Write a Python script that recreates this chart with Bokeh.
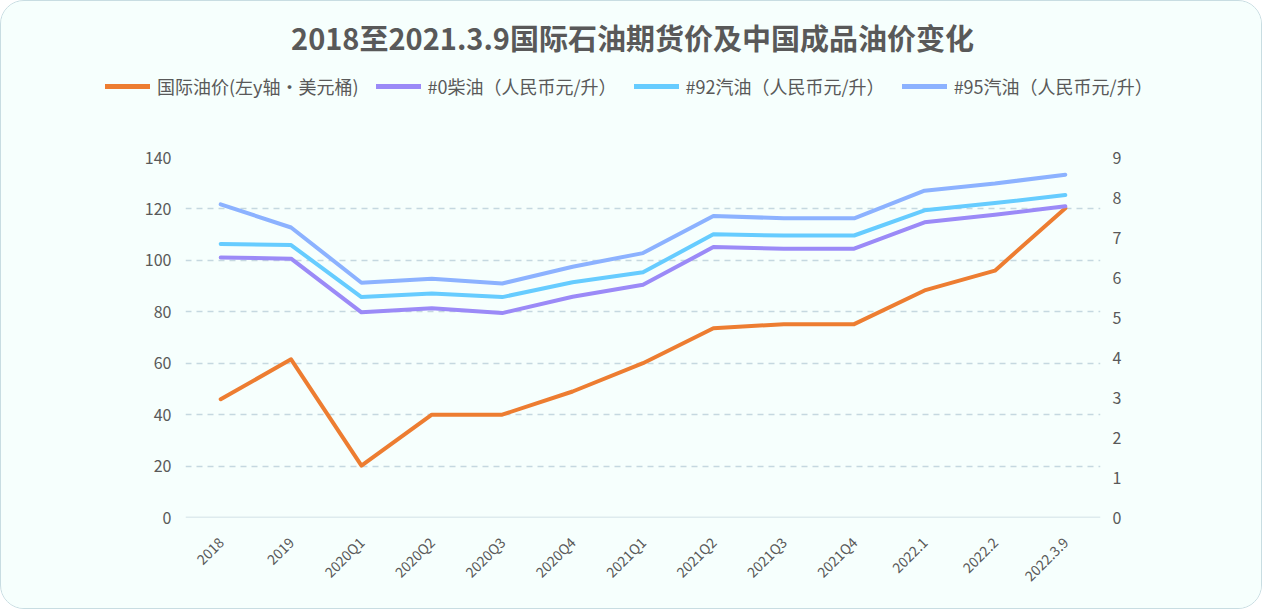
from bokeh.plotting import figure
from bokeh.layouts import column
from bokeh.models import (Range1d, LinearAxis, FixedTicker, Legend, LegendItem,
                          Span, Label)
from bokeh.embed import file_html
from bokeh.resources import INLINE
import math

categories = ["2018", "2019", "2020Q1", "2020Q2", "2020Q3", "2020Q4", "2021Q1",
              "2021Q2", "2021Q3", "2021Q4", "2022.1", "2022.2", "2022.3.9"]
intl_oil = [46, 61.5, 20.2, 40, 40, 49, 60, 73.6, 75.2, 75.2, 88.3, 96, 120.3]
diesel0 = [6.50, 6.47, 5.13, 5.23, 5.11, 5.52, 5.82, 6.76, 6.72, 6.72, 7.38, 7.57, 7.78]
gas92 = [6.84, 6.81, 5.51, 5.60, 5.51, 5.88, 6.13, 7.08, 7.05, 7.05, 7.68, 7.86, 8.06]
gas95 = [7.83, 7.25, 5.87, 5.97, 5.85, 6.27, 6.61, 7.54, 7.48, 7.48, 8.17, 8.35, 8.57]
left_ticks = [0, 20, 40, 60, 80, 100, 120, 140]
right_ticks = [0, 1, 2, 3, 4, 5, 6, 7, 8, 9]
series_names = ["国际油价(左y轴·美元桶)", "#0柴油（人民币元/升）",
                "#92汽油（人民币元/升）", "#95汽油（人民币元/升）"]
colors = ["#ED7D31", "#9B8AF7", "#66CCFF", "#8CB2FF"]
title_text = "2018至2021.3.9国际石油期货价及中国成品油价变化"

FONT = "Noto Sans CJK SC"
BG = "#F6FFFD"
TXT = "#595959"
W = 1260
HEAD_H = 120

# ---------- header (title + legend) ----------
hd = figure(width=W, height=HEAD_H, x_range=Range1d(0, W), y_range=Range1d(HEAD_H, 0),
            output_backend="svg", toolbar_location=None,
            min_border=0, min_border_left=0, min_border_right=0,
            min_border_top=0, min_border_bottom=0)
hd.frame_align = False
hd.axis.visible = False
hd.grid.visible = False
hd.background_fill_color = BG
hd.border_fill_color = BG
hd.outline_line_color = None

hd.add_layout(Label(x=631, y=35, text=title_text, text_align="center",
                    text_baseline="middle", text_font=FONT, text_font_size="29px",
                    text_font_style="bold", text_color=TXT))

series_vals = [intl_oil, diesel0, gas92, gas95]
idx = list(range(len(categories)))
dummies = [hd.line(idx, v, line_color=c, line_width=5, line_cap="round", visible=False)
           for v, c in zip(series_vals, colors)]
legend = Legend(items=[LegendItem(label=n, renderers=[r]) for n, r in zip(series_names, dummies)],
                orientation="horizontal", location=(104, 22),
                label_text_font=FONT, label_text_font_size="18px", label_text_color=TXT,
                glyph_width=45, glyph_height=16, spacing=17, label_standoff=7,
                background_fill_alpha=0, border_line_color=None,
                inactive_fill_alpha=0, click_policy="none",
                margin=0, padding=4)
hd.add_layout(legend, "center")

# ---------- main chart ----------
p = figure(x_range=categories, y_range=Range1d(0, 140), width=W, height=607 - HEAD_H,
           output_backend="svg", toolbar_location=None,
           min_border_left=184, min_border_right=W - 1099, min_border_bottom=91,
           min_border_top=156 - HEAD_H)
p.extra_y_ranges = {"y2": Range1d(0, 9)}
p.background_fill_color = BG
p.border_fill_color = BG
p.outline_line_color = None

p.xgrid.grid_line_color = None
p.ygrid.grid_line_color = "#C5D8E0"
p.ygrid.grid_line_dash = "6 5"
p.ygrid.grid_line_width = 1.5
p.yaxis.ticker = FixedTicker(ticks=left_ticks)
p.add_layout(Span(location=0, dimension="width", line_color="#C5D8E0", line_width=1.5))

r0 = p.line(categories, intl_oil, line_color=colors[0], line_width=4, line_cap="round", line_join="round")
r1 = p.line(categories, diesel0, line_color=colors[1], line_width=4, line_cap="round", line_join="round", y_range_name="y2")
r2 = p.line(categories, gas92, line_color=colors[2], line_width=4, line_cap="round", line_join="round", y_range_name="y2")
r3 = p.line(categories, gas95, line_color=colors[3], line_width=4, line_cap="round", line_join="round", y_range_name="y2")

ax2 = LinearAxis(y_range_name="y2", ticker=FixedTicker(ticks=right_ticks))
p.add_layout(ax2, "right")

for ax in [p.yaxis[0], ax2]:
    ax.axis_line_color = None
    ax.major_tick_line_color = None
    ax.minor_tick_line_color = None
    ax.major_label_text_font = FONT
    ax.major_label_text_font_size = "16px"
    ax.major_label_text_color = TXT
p.yaxis[0].major_label_standoff = 8
ax2.major_label_standoff = 6

xa = p.xaxis[0]
xa.axis_line_color = None
xa.major_tick_line_color = None
xa.minor_tick_line_color = None
xa.major_label_orientation = math.pi / 4
xa.major_label_text_font = FONT
xa.major_label_text_font_size = "14px"
xa.major_label_text_color = TXT
xa.major_label_standoff = 16

page = column(hd, p, spacing=0)
page.styles = {"border": "1.5px solid #C8DDE2", "border-radius": "24px",
               "overflow": "hidden", "background-color": BG}

open("out.html", "w").write(file_html(page, INLINE))
